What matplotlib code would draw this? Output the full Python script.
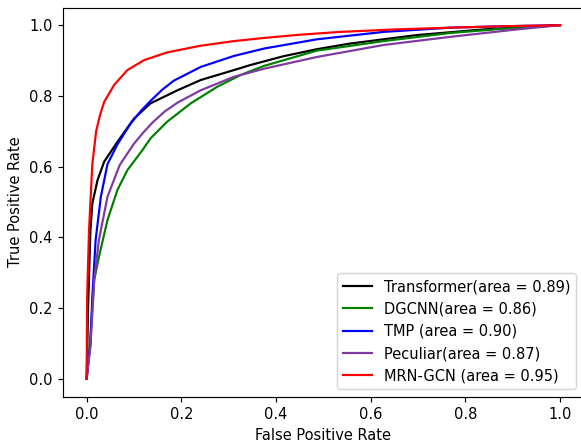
import matplotlib.pyplot as plt

# ROC points
fpr_transformer = [0.0, 0.003, 0.008, 0.012, 0.023, 0.037, 0.051, 0.065, 0.1, 0.135, 0.192, 0.241, 0.311,
                   0.345, 0.415, 0.486, 0.556, 0.697, 0.838, 1.0]
tpr_transformer = [0.0, 0.2, 0.421, 0.496, 0.562, 0.614, 0.642, 0.67, 0.736, 0.779, 0.816, 0.845, 0.873,
                   0.887, 0.912, 0.932, 0.948, 0.972, 0.988, 1.0]

fpr_dgcnn = [0.0, 0.004, 0.008, 0.016, 0.026, 0.044, 0.065, 0.086, 0.1, 0.118, 0.135, 0.17, 0.22, 0.276,
             0.325, 0.375, 0.486, 0.627, 0.768, 0.9, 1.0]
tpr_dgcnn = [0.0, 0.06, 0.12, 0.28, 0.345, 0.449, 0.534, 0.59, 0.615, 0.647, 0.68, 0.727, 0.779, 0.826,
             0.859, 0.885, 0.928, 0.955, 0.978, 0.992, 1.0]

fpr_tmp = [0.0, 0.008, 0.012, 0.019, 0.03, 0.044, 0.065, 0.093, 0.115, 0.135, 0.16, 0.184, 0.241, 0.311,
           0.375, 0.486, 0.627, 0.768, 0.88, 1.0]
tpr_tmp = [0.0, 0.1, 0.232, 0.393, 0.515, 0.607, 0.663, 0.722, 0.758, 0.786, 0.818, 0.843, 0.882, 0.913,
           0.934, 0.96, 0.981, 0.993, 0.997, 1.0]

fpr_peculiar = [0.0, 0.008, 0.016, 0.026, 0.044, 0.07, 0.1, 0.12, 0.14, 0.165, 0.192, 0.241, 0.311, 0.375,
                0.486, 0.627, 0.768, 0.909, 1.0]
tpr_peculiar = [0.0, 0.091, 0.28, 0.393, 0.515, 0.605, 0.665, 0.697, 0.726, 0.756, 0.781, 0.816, 0.854,
                0.877, 0.91, 0.944, 0.967, 0.988, 1.0]

fpr_mrn = [0.0, 0.001, 0.005, 0.012, 0.02, 0.028, 0.037, 0.058, 0.086, 0.121, 0.17, 0.241, 0.311, 0.375,
           0.45, 0.535, 0.65, 0.768, 0.88, 1.0]
tpr_mrn = [0.0, 0.23, 0.42, 0.607, 0.70, 0.745, 0.783, 0.831, 0.873, 0.901, 0.923, 0.942, 0.955, 0.964,
           0.973, 0.981, 0.988, 0.993, 0.997, 1.0]

fig = plt.figure(figsize=(581 / 105, 442 / 105), dpi=105)
ax = fig.add_axes([0.1084, 0.1029, 0.8962, 0.8801])

ax.plot(fpr_transformer, tpr_transformer, color='black', label='Transformer(area = 0.89)')
ax.plot(fpr_dgcnn, tpr_dgcnn, color='green', label='DGCNN(area = 0.86)')
ax.plot(fpr_tmp, tpr_tmp, color='blue', label='TMP (area = 0.90)')
ax.plot(fpr_peculiar, tpr_peculiar, color='#7e3a9e', label='Peculiar(area = 0.87)')
ax.plot(fpr_mrn, tpr_mrn, color='red', label='MRN-GCN (area = 0.95)')

ax.set_xlim(-0.05, 1.05)
ax.set_ylim(-0.05, 1.05)
ax.set_xlabel('False Positive Rate')
ax.set_ylabel('True Positive Rate')
ax.legend(loc='lower right')

fig.savefig('out.png', dpi=105)
